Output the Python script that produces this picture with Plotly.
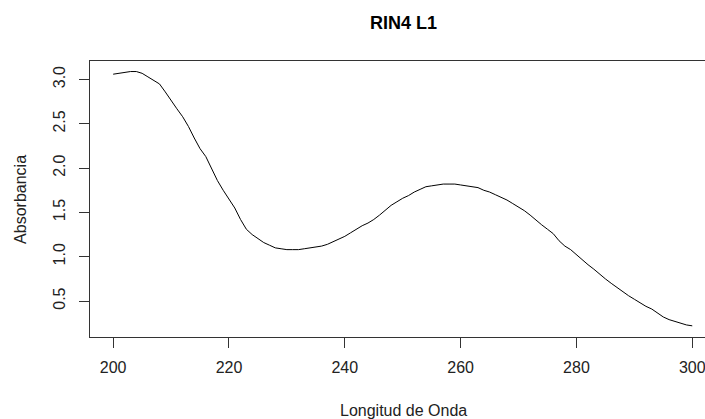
import plotly.graph_objects as go

wavelength = list(range(200, 301))
absorbance = [
    3.06, 3.07, 3.08, 3.09, 3.09, 3.07, 3.03, 2.99, 2.95, 2.86,
    2.76, 2.67, 2.58, 2.47, 2.34, 2.22, 2.13, 2.00, 1.86, 1.75,
    1.65, 1.55, 1.42, 1.31, 1.25, 1.20, 1.16, 1.13, 1.10, 1.09,
    1.08, 1.08, 1.08, 1.09, 1.10, 1.11, 1.12, 1.14, 1.17, 1.20,
    1.23, 1.27, 1.31, 1.35, 1.38, 1.42, 1.47, 1.53, 1.58, 1.62,
    1.66, 1.69, 1.73, 1.76, 1.79, 1.80, 1.81, 1.82, 1.82, 1.82,
    1.81, 1.80, 1.79, 1.78, 1.75, 1.73, 1.70, 1.67, 1.64, 1.60,
    1.56, 1.52, 1.47, 1.41, 1.36, 1.31, 1.26, 1.18, 1.12, 1.08,
    1.02, 0.96, 0.91, 0.86, 0.80, 0.75, 0.70, 0.65, 0.60, 0.56,
    0.52, 0.48, 0.44, 0.41, 0.36, 0.32, 0.29, 0.27, 0.25, 0.23,
    0.22,
]
x_ticks = [200, 220, 240, 260, 280, 300]
y_ticks = [0.5, 1.0, 1.5, 2.0, 2.5, 3.0]
y_tick_labels = ["0.5", "1.0", "1.5", "2.0", "2.5", "3.0"]

FONT = "Liberation Sans, Arial, sans-serif"

fig = go.Figure()
fig.add_trace(go.Scatter(x=wavelength, y=absorbance, mode="lines",
                         line=dict(color="black", width=1), showlegend=False))

fig.update_layout(
    width=705, height=419,
    margin=dict(l=90, r=0, t=61, b=82, autoexpand=False),
    paper_bgcolor="white", plot_bgcolor="white",
    font=dict(family=FONT, color="#222222", size=15),
    xaxis=dict(range=[196, 302.2], tickvals=x_ticks, ticks="outside", ticklen=10,
               tickcolor="#333333", showline=True, linecolor="#333333", linewidth=1,
               mirror=True, showgrid=False, zeroline=False, automargin=False,
               ticklabeloverflow="allow",
               tickfont=dict(size=16), ticklabelstandoff=6),
    yaxis=dict(range=[0.094, 3.209], tickvals=y_ticks, ticktext=y_tick_labels,
               ticks="outside", ticklen=10, tickcolor="#333333", showline=True,
               linecolor="#333333", linewidth=1, showgrid=False, zeroline=False,
               automargin=False, ticklabeloverflow="allow",
               tickangle=-90, tickfont=dict(size=16), ticklabelstandoff=8),
    annotations=[
        dict(text="<b>RIN4 L1</b>", xref="paper", yref="paper", x=0.509, y=1.138,
             showarrow=False, font=dict(size=18, color="black"),
             xanchor="center", yanchor="middle"),
        dict(text="Longitud de Onda", xref="paper", yref="paper", x=0.509, y=-0.2645,
             showarrow=False, font=dict(size=16), xanchor="center", yanchor="middle"),
        dict(text="Absorbancia", xref="paper", yref="paper", x=-0.114, y=0.5,
             showarrow=False, font=dict(size=16), textangle=-90,
             xanchor="center", yanchor="middle"),
    ],
)

fig.write_html("out.html", config={"displayModeBar": False},
               post_script="document.body.style.margin='0';")
